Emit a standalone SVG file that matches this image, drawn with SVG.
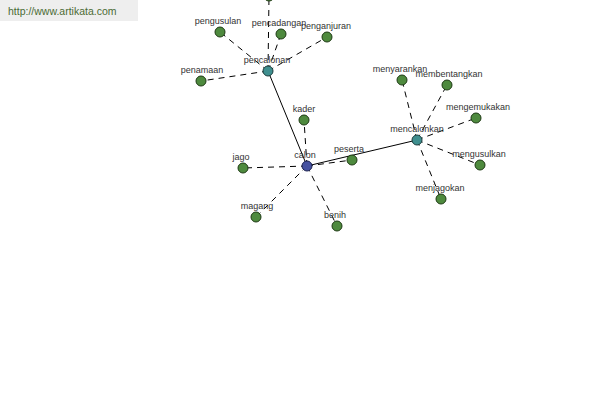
<svg xmlns="http://www.w3.org/2000/svg" width="600" height="400" viewBox="0 0 600 400">
<style>
.bg{fill:#ffffff}
.hdr{fill:#eeeeee}
.hdrt{font-family:"Liberation Sans",Arial,sans-serif;font-size:10.5px;fill:#4b6b34}
.lbl{font-family:"Liberation Sans",Arial,sans-serif;font-size:9px;fill:#333333;text-anchor:middle}
.solid{stroke:#000000;stroke-width:1;fill:none}
.dash{stroke:#000000;stroke-width:1;fill:none;stroke-dasharray:6,5}
.leaf{fill:#4e8a3e;stroke:#1e3a14;stroke-width:1}
.hub{fill:#3f8f8f;stroke:#1b3d3d;stroke-width:1}
.root{fill:#4652a0;stroke:#1c2250;stroke-width:1}
</style>
<rect class="bg" x="0" y="0" width="600" height="400"/>
<g id="header">
<rect class="hdr" x="0" y="0" width="138" height="21"/>
<text class="hdrt" x="8" y="15">http://www.artikata.com</text>
</g>
<g id="connectors">
<line class="solid" x1="268" y1="71" x2="307" y2="166"/>
<line class="solid" x1="307" y1="166" x2="417" y2="140"/>
<line class="dash" x1="268" y1="71" x2="269" y2="-4"/>
<line class="dash" x1="268" y1="71" x2="220" y2="32"/>
<line class="dash" x1="268" y1="71" x2="281" y2="34"/>
<line class="dash" x1="268" y1="71" x2="327" y2="37"/>
<line class="dash" x1="268" y1="71" x2="201" y2="81"/>
<line class="dash" x1="307" y1="166" x2="304" y2="120"/>
<line class="dash" x1="307" y1="166" x2="243" y2="168"/>
<line class="dash" x1="307" y1="166" x2="352" y2="160"/>
<line class="dash" x1="307" y1="166" x2="256" y2="217"/>
<line class="dash" x1="307" y1="166" x2="337" y2="226"/>
<line class="dash" x1="417" y1="140" x2="402" y2="80"/>
<line class="dash" x1="417" y1="140" x2="447" y2="85"/>
<line class="dash" x1="417" y1="140" x2="476" y2="118"/>
<line class="dash" x1="417" y1="140" x2="480" y2="165"/>
<line class="dash" x1="417" y1="140" x2="441" y2="199"/>
</g>
<g id="n-top"><circle class="leaf" cx="269" cy="-4" r="5"/></g>
<g id="n-pengusulan"><circle class="leaf" cx="220" cy="32" r="5"/><text class="lbl" x="218" y="24">pengusulan</text></g>
<g id="n-pencadangan"><circle class="leaf" cx="281" cy="34" r="5"/><text class="lbl" x="279" y="26">pencadangan</text></g>
<g id="n-penganjuran"><circle class="leaf" cx="327" cy="37" r="5"/><text class="lbl" x="326" y="29">penganjuran</text></g>
<g id="n-penamaan"><circle class="leaf" cx="201" cy="81" r="5"/><text class="lbl" x="202" y="73">penamaan</text></g>
<g id="n-pencalonan"><circle class="hub" cx="268" cy="71" r="5"/><text class="lbl" x="267" y="63">pencalonan</text></g>
<g id="n-kader"><circle class="leaf" cx="304" cy="120" r="5"/><text class="lbl" x="304" y="112">kader</text></g>
<g id="n-jago"><circle class="leaf" cx="243" cy="168" r="5"/><text class="lbl" x="241" y="160">jago</text></g>
<g id="n-peserta"><circle class="leaf" cx="352" cy="160" r="5"/><text class="lbl" x="349" y="152">peserta</text></g>
<g id="n-magang"><circle class="leaf" cx="256" cy="217" r="5"/><text class="lbl" x="257" y="209">magang</text></g>
<g id="n-benih"><circle class="leaf" cx="337" cy="226" r="5"/><text class="lbl" x="335" y="218">benih</text></g>
<g id="n-calon"><circle class="root" cx="307" cy="166" r="5"/><text class="lbl" x="305" y="158">calon</text></g>
<g id="n-menyarankan"><circle class="leaf" cx="402" cy="80" r="5"/><text class="lbl" x="400" y="72">menyarankan</text></g>
<g id="n-membentangkan"><circle class="leaf" cx="447" cy="85" r="5"/><text class="lbl" x="449" y="77">membentangkan</text></g>
<g id="n-mengemukakan"><circle class="leaf" cx="476" cy="118" r="5"/><text class="lbl" x="478" y="110">mengemukakan</text></g>
<g id="n-mengusulkan"><circle class="leaf" cx="480" cy="165" r="5"/><text class="lbl" x="479" y="157">mengusulkan</text></g>
<g id="n-menjagokan"><circle class="leaf" cx="441" cy="199" r="5"/><text class="lbl" x="440" y="191">menjagokan</text></g>
<g id="n-mencalonkan"><circle class="hub" cx="417" cy="140" r="5"/><text class="lbl" x="417" y="132">mencalonkan</text></g>
</svg>
